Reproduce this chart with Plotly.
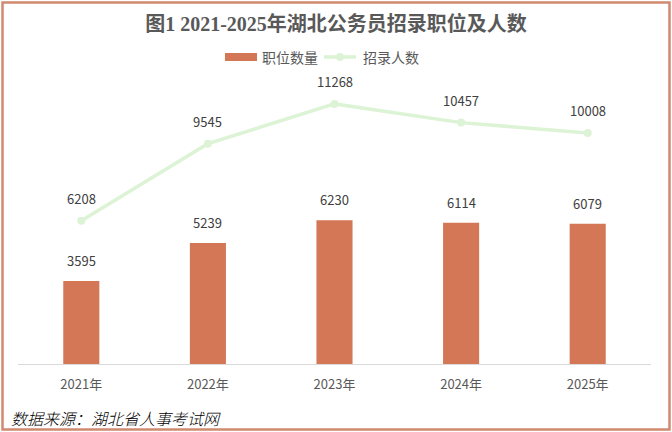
import plotly.graph_objects as go

years = ["2021年", "2022年", "2023年", "2024年", "2025年"]
positions = [3595, 5239, 6230, 6114, 6079]      # 职位数量
recruits = [6208, 9545, 11268, 10457, 10008]    # 招录人数
series_names = ["职位数量", "招录人数"]

W, H = 672, 432
ML, MR, MT, MB = 18, 21, 87, 68
PW, PH = W - ML - MR, H - MT - MB

def px_x(p):
    return (p - ML) / PW

def px_y(p):
    return (H - MB - p) / PH

BAR = "#D47756"
LINE = "#DDF3D5"
TXT = "#595959"
FONT = "Noto Sans CJK SC, Noto Sans, sans-serif"

fig = go.Figure()
fig.add_trace(go.Bar(
    x=years, y=positions, name=series_names[0],
    marker=dict(color=BAR, line=dict(width=0)),
    width=0.285,
))
fig.add_trace(go.Scatter(
    x=years, y=recruits, name=series_names[1], mode="lines+markers",
    line=dict(color=LINE, width=3.5),
    marker=dict(color=LINE, size=8),
))

ann = []
for x, v in zip(years, positions):
    ann.append(dict(x=x, y=v, xref="x", yref="y", text=str(v), showarrow=False,
                    yanchor="bottom", yshift=9,
                    font=dict(family=FONT, size=13, color="#404040")))
for x, v in zip(years, recruits):
    ann.append(dict(x=x, y=v, xref="x", yref="y", text=str(v), showarrow=False,
                    yanchor="bottom", yshift=11,
                    font=dict(family=FONT, size=13, color="#404040")))
ann.append(dict(x=px_x(9), y=px_y(418), xref="paper", yref="paper",
                text="<i>数据来源：湖北省人事考试网</i>", showarrow=False,
                xanchor="left", yanchor="middle",
                font=dict(family=FONT, size=16, color="#000000", weight=300)))
# legend texts
ann.append(dict(x=px_x(260), y=px_y(56.5), xref="paper", yref="paper",
                text=series_names[0], showarrow=False, xanchor="left", yanchor="middle",
                font=dict(family=FONT, size=14, color=TXT)))
ann.append(dict(x=px_x(361), y=px_y(56.5), xref="paper", yref="paper",
                text=series_names[1], showarrow=False, xanchor="left", yanchor="middle",
                font=dict(family=FONT, size=14, color=TXT)))

shapes = [
    dict(type="rect", xref="paper", yref="paper",
         x0=px_x(2.5), x1=px_x(669.5), y0=px_y(429.5), y1=px_y(2.5),
         line=dict(color="#D08A70", width=2.5), layer="above"),
    # legend swatches
    dict(type="rect", xref="paper", yref="paper",
         x0=px_x(225), x1=px_x(257), y0=px_y(61), y1=px_y(53),
         fillcolor=BAR, line=dict(width=0)),
    dict(type="line", xref="paper", yref="paper",
         x0=px_x(324), x1=px_x(356), y0=px_y(57), y1=px_y(57),
         line=dict(color=LINE, width=3.5)),
    dict(type="circle", xref="paper", yref="paper",
         x0=px_x(336), x1=px_x(344), y0=px_y(61), y1=px_y(53),
         fillcolor=LINE, line=dict(width=0)),
]

fig.update_layout(
    width=W, height=H,
    margin=dict(l=ML, r=MR, t=MT, b=MB),
    paper_bgcolor="white", plot_bgcolor="white",
    title=dict(text="<b>图1 2021-2025年湖北公务员招录职位及人数</b>",
               x=0.5, xanchor="center", y=1 - 24 / H, yanchor="middle",
               font=dict(family="Liberation Serif, Noto Sans CJK SC, serif", size=20, color=TXT)),
    showlegend=False,
    bargap=0.7,
    xaxis=dict(showgrid=False, showline=True, linecolor="#D9D9D9", linewidth=1,
               ticks="", ticklabelstandoff=8,
               tickfont=dict(family=FONT, size=13, color=TXT)),
    yaxis=dict(range=[0, 12000], visible=False, showgrid=False, zeroline=False),
    annotations=ann,
    shapes=shapes,
)

fig.write_html("out.html", config={"displayModeBar": False},
               post_script="document.body.style.margin='0';document.body.style.overflow='hidden';")
